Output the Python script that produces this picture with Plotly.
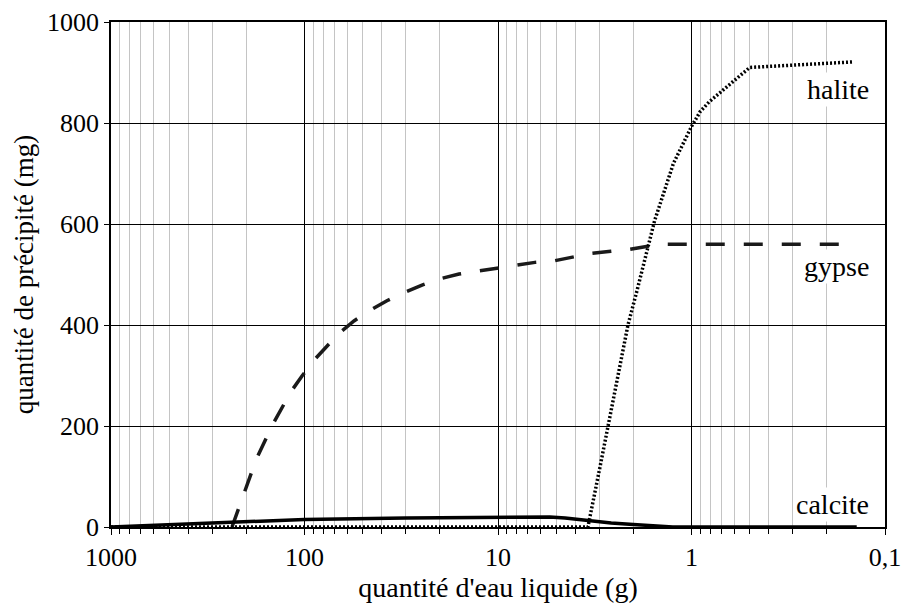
import plotly.graph_objects as go

#### data ####
# calcite (solid)
calcite_x = [1000, 237, 100, 30, 10, 6, 5.4, 4.5, 3.4, 2.6, 2.0, 1.5, 1.25, 0.14]
calcite_y = [0, 10, 15, 18, 20, 20, 20, 18, 12, 8, 5, 2, 0, 0]
# gypse (dashed)
gypse_x = [237, 208, 178, 147, 117.5, 103, 90, 77, 65.6, 55.5, 45.8, 37.5, 30.3, 24.7, 19.7, 15.9,
           12.7, 10.1, 8.07, 6.44, 5.14, 4.10, 3.27, 2.61, 2.08, 1.68, 1.5, 0.17]
gypse_y = [0, 62, 133, 201, 268, 299, 329, 357, 385, 408, 429, 448, 465, 479, 492, 501,
           507, 512, 519, 524, 527, 534, 542, 546, 550, 556, 560, 560]
# halite (dotted)
halite_x = [1000, 3.43, 2.97, 2.70, 2.40, 2.13, 1.91, 1.70, 1.55, 1.24, 1.0, 0.904, 0.81, 0.5, 0.146]
halite_y = [0, 0, 119, 202, 304, 400, 469, 548, 607, 720, 793, 822, 842, 910, 921]

x_ticks = [1000, 100, 10, 1, 0.1]
x_labels = ['1000', '100', '10', '1', '0,1']
y_ticks = [0, 200, 400, 600, 800, 1000]

labels = ['halite', 'gypse', 'calcite']
label_y = [866, 515, 44]

# minor log grid (2..9 in each decade)
minor_vals = [k * 10.0 ** d for d in range(-1, 3) for k in range(2, 10)]

font = 'Liberation Serif, Times New Roman, serif'

fig = go.Figure()
fig.add_trace(go.Scatter(x=gypse_x, y=gypse_y, mode='lines', name='gypse',
                         line=dict(color='#1a1a1a', width=3.5, dash='19px,19px')))
fig.add_trace(go.Scatter(x=halite_x, y=halite_y, mode='lines', name='halite',
                         line=dict(color='black', width=3.5, dash='2px,2px')))
fig.add_trace(go.Scatter(x=calcite_x, y=calcite_y, mode='lines', name='calcite',
                         line=dict(color='black', width=3.5)))

for txt, yy in zip(labels, label_y):
    fig.add_annotation(x=0.982, xref='paper', y=yy, yref='y', text=txt, showarrow=False,
                       xanchor='right', yanchor='middle', bgcolor='white', borderpad=1,
                       font=dict(family=font, size=28, color='black'))

fig.update_xaxes(type='log', range=[3, -1], tickmode='array', tickvals=x_ticks, ticktext=x_labels,
                 showgrid=True, gridcolor='black', gridwidth=1,
                 showline=True, linecolor='black', linewidth=1.5, mirror=True,
                 ticks='outside', ticklen=6, tickcolor='black',
                 minor=dict(tickmode='array', tickvals=minor_vals, showgrid=True,
                            gridcolor='#c4c4c4', gridwidth=1, ticks='outside', ticklen=5,
                            tickcolor='black'),
                 tickfont=dict(family=font, size=26, color='black'),
                 title=dict(text="quantité d'eau liquide (g)", standoff=4,
                            font=dict(family=font, size=28, color='black')),
                 zeroline=False, automargin=False)
fig.update_yaxes(range=[0, 1000], tickmode='array', tickvals=y_ticks,
                 showgrid=True, gridcolor='black', gridwidth=1,
                 showline=True, linecolor='black', linewidth=1.5, mirror=True,
                 ticks='outside', ticklen=5, tickcolor='black',
                 tickfont=dict(family=font, size=26, color='black'),
                 title=dict(text='quantité de précipité (mg)', standoff=6,
                            font=dict(family=font, size=27, color='black')),
                 zeroline=False, automargin=False)
fig.update_layout(width=902, height=605, showlegend=False,
                  font=dict(family=font, size=26, color='black'),
                  margin=dict(l=111, r=17, t=22, b=78),
                  plot_bgcolor='white', paper_bgcolor='white')
# drop the page's default body margin so the figure fills the window
fig.write_html('out.html', config={'displayModeBar': False},
               post_script="document.body.style.margin='0';document.body.style.overflow='hidden';")
